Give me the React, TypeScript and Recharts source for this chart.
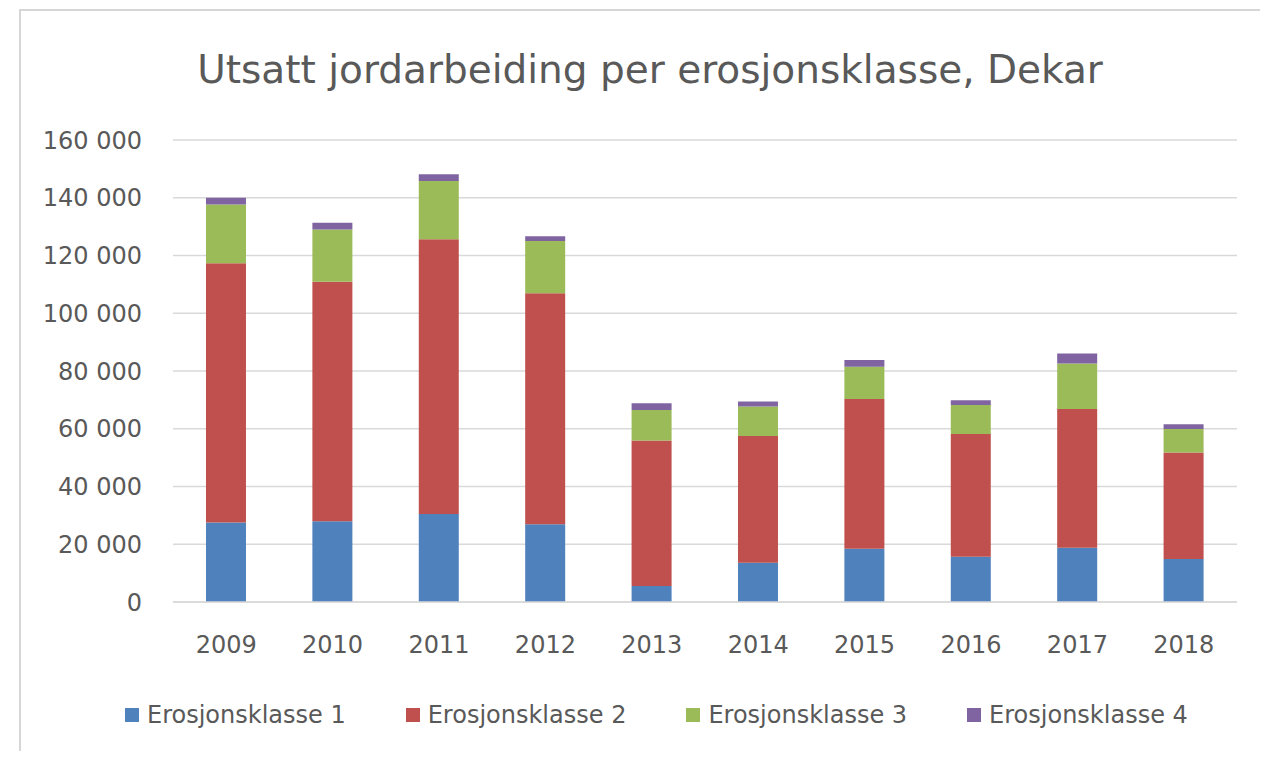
import React from 'react';
import { BarChart, Bar, XAxis, YAxis, CartesianGrid, Legend } from 'recharts';

const years = ['2009', '2010', '2011', '2012', '2013', '2014', '2015', '2016', '2017', '2018'];
const klasse1 = [27500, 28000, 30500, 26900, 5500, 13600, 18400, 15700, 18800, 14900];
const klasse2 = [89800, 82900, 95100, 80000, 50400, 43900, 51900, 42500, 48000, 36900];
const klasse3 = [20400, 18100, 20200, 18100, 10600, 10200, 11200, 10000, 15800, 8100];
const klasse4 = [2300, 2300, 2300, 1700, 2300, 1700, 2300, 1700, 3500, 1700];
const yTicks = [0, 20000, 40000, 60000, 80000, 100000, 120000, 140000, 160000];

const seriesNames = ['Erosjonsklasse 1', 'Erosjonsklasse 2', 'Erosjonsklasse 3', 'Erosjonsklasse 4'];
const seriesKeys = ['k1', 'k2', 'k3', 'k4'];
const seriesColors = ['#4f81bd', '#c0504d', '#9bbb59', '#8064a2'];
const titleText = 'Utsatt jordarbeiding per erosjonsklasse, Dekar';

const data = years.map((y, i) => ({
  year: y,
  k1: klasse1[i],
  k2: klasse2[i],
  k3: klasse3[i],
  k4: klasse4[i],
}));

const FONT = '"DejaVu Sans", sans-serif';
const TEXT = '#595959';

const fmt = (v: number) => {
  const s = String(Math.round(v));
  return s.replace(/\B(?=(\d{3})+(?!\d))/g, ' ');
};

const XTick = (props: any) => {
  const { x, y, payload } = props;
  return (
    <text x={x} y={y + 51} textAnchor="middle" fontFamily={FONT} fontSize={24} fill={TEXT}>
      {payload.value}
    </text>
  );
};

const YTick = (props: any) => {
  const { x, y, payload } = props;
  return (
    <text x={x - 31} y={y + 8.7} textAnchor="end" fontFamily={FONT} fontSize={24} fill={TEXT}>
      {fmt(payload.value)}
    </text>
  );
};

const LegendContent = (props: any) => {
  const { payload } = props;
  return (
    <div style={{ height: 30, display: 'flex', alignItems: 'center', paddingLeft: 117, fontFamily: FONT, fontSize: 24, color: TEXT }}>
      {(payload || []).map((p: any, i: number) => (
        <div key={i} style={{ display: 'flex', alignItems: 'center', marginRight: 60 }}>
          <div style={{ width: 14, height: 14, background: p.color, marginRight: 8 }} />
          <span style={{ whiteSpace: 'nowrap' }}>{p.value}</span>
        </div>
      ))}
    </div>
  );
};

export default function App() {
  return (
    <div style={{ position: 'relative', width: 1252, height: 743, background: '#fff' }}>
      <div
        style={{
          position: 'absolute',
          left: 11,
          top: 1,
          right: -8,
          bottom: -8,
          borderTop: '2px solid #d6d6d6',
          borderLeft: '2px solid #d6d6d6',
        }}
      />
      <div
        style={{
          position: 'absolute',
          left: 642,
          top: 39,
          transform: 'translateX(-50%)',
          whiteSpace: 'nowrap',
          fontFamily: FONT,
          fontSize: 39,
          color: TEXT,
        }}
      >
        {titleText}
      </div>
      <BarChart
        width={1252}
        height={743}
        data={data}
        margin={{ top: 132, right: 23, left: 0, bottom: 21 }}
        barCategoryGap="31%"
      >
        <CartesianGrid vertical={false} stroke="#d9d9d9" strokeWidth={1.5} />
        <XAxis
          dataKey="year"
          height={98}
          tickLine={false}
          tickSize={0}
          tickMargin={0}
          axisLine={{ stroke: '#d9d9d9', strokeWidth: 1.5 }}
          tick={<XTick />}
          interval={0}
        />
        <YAxis
          width={165}
          domain={[0, 160000]}
          ticks={yTicks}
          tickLine={false}
          tickSize={0}
          tickMargin={0}
          axisLine={false}
          tick={<YTick />}
          interval={0}
        />
        <Legend
          verticalAlign="bottom"
          height={30}
          wrapperStyle={{ left: 0, width: 1252 }}
          content={<LegendContent />}
        />
        {seriesKeys.map((k, i) => (
          <Bar
            key={k}
            dataKey={k}
            name={seriesNames[i]}
            stackId="a"
            fill={seriesColors[i]}
            isAnimationActive={false}
          />
        ))}
      </BarChart>
    </div>
  );
}
